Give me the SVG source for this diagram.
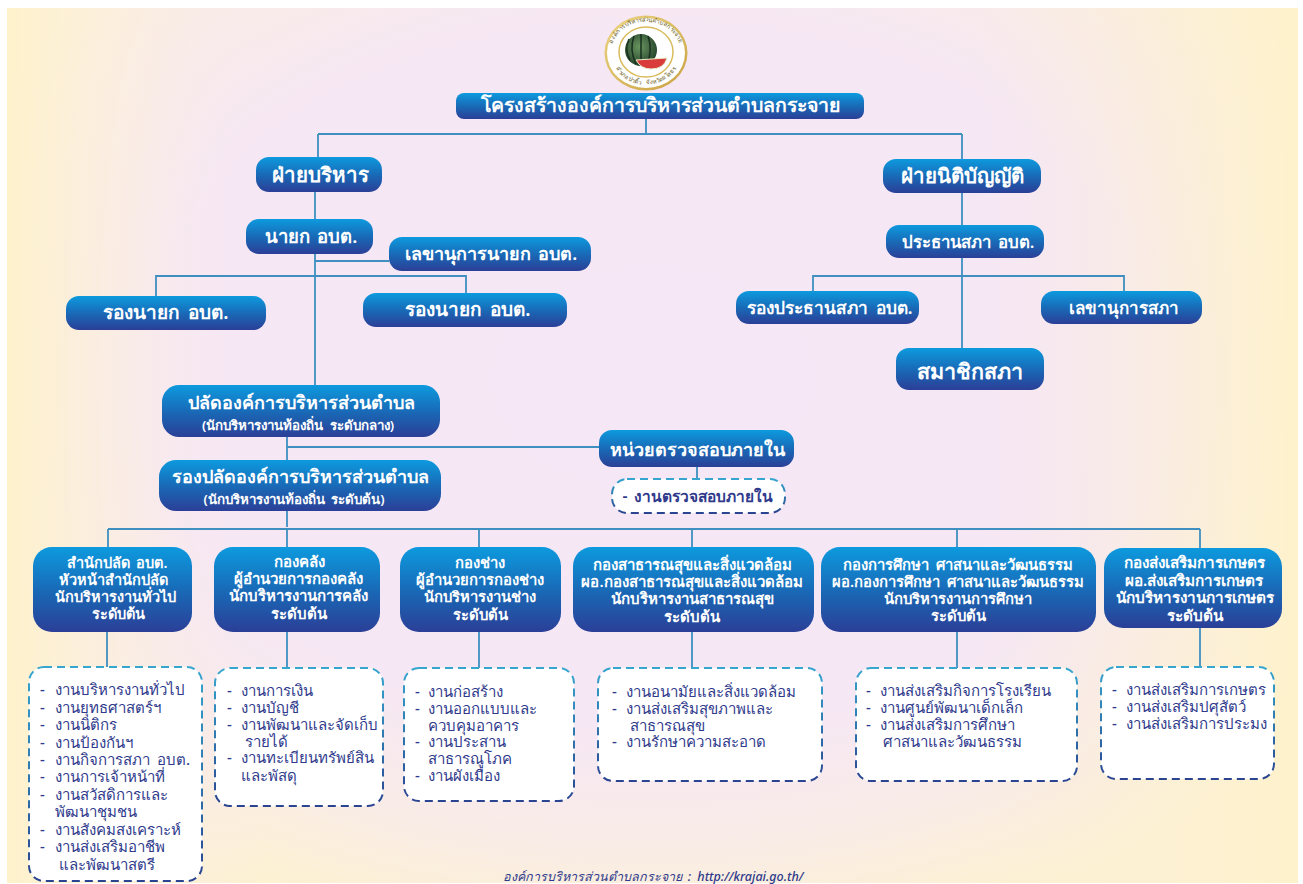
<svg xmlns="http://www.w3.org/2000/svg" width="1303" height="884" viewBox="0 0 1303 884">
<defs>
<radialGradient id="bg" cx="0.5" cy="0.42" r="0.66">
<stop offset="0" stop-color="#f6e7f6"/><stop offset="0.6" stop-color="#f6e7f5"/><stop offset="0.82" stop-color="#f9ece6"/><stop offset="1" stop-color="#fdf2d0"/>
</radialGradient>
<linearGradient id="side" x1="0" y1="0" x2="1" y2="0">
<stop offset="0" stop-color="#fef2cc"/><stop offset="0.1" stop-color="#fbeee0" stop-opacity="0.6"/><stop offset="0.2" stop-color="#f6e7f5" stop-opacity="0"/><stop offset="0.75" stop-color="#f9ecdf" stop-opacity="0"/><stop offset="1" stop-color="#fef2cc"/>
</linearGradient>
<linearGradient id="blue" x1="0" y1="0" x2="0" y2="1">
<stop offset="0" stop-color="#0d9ade"/><stop offset="0.55" stop-color="#1a66b4"/><stop offset="1" stop-color="#2b3f97"/>
</linearGradient>
<linearGradient id="dash" x1="0" y1="0" x2="0" y2="1">
<stop offset="0" stop-color="#36a6cf"/><stop offset="0.5" stop-color="#2f78b0"/><stop offset="1" stop-color="#2b4491"/>
</linearGradient>
<radialGradient id="melon" cx="0.45" cy="0.4" r="0.6"><stop offset="0" stop-color="#6a9560"/><stop offset="1" stop-color="#26452c"/></radialGradient>
<linearGradient id="gold" x1="0" y1="0" x2="1" y2="1"><stop offset="0" stop-color="#ecd580"/><stop offset="1" stop-color="#c9a243"/></linearGradient>
<path id="arcTop" d="M611 60A35.500 33 0 1 1 681 60"/>
<path id="arcBot" d="M614 64A33 27 0 0 0 678 64"/>
<style>
text{font-family:"Noto Sans","Noto Sans CJK SC","DejaVu Sans",sans-serif;word-spacing:3px}
.n{fill:url(#blue)}
.t{fill:#fff;text-anchor:middle;font-weight:600}
.d{fill:#fff;stroke:url(#dash);stroke-width:2;stroke-dasharray:8 5}
.l{fill:#2f3a8c;font-size:15px;font-weight:500}
.c{fill:none;stroke:#3f8fc0;stroke-width:1.800}
</style>
</defs>
<rect width="1303" height="884" fill="#fff"/>
<rect x="7" y="8" width="1291" height="875" fill="url(#bg)"/>
<rect x="7" y="8" width="1291" height="875" fill="url(#side)"/>
<g id="connectors" class="c">
<path d="M646 119V134M318 134H962M318 134V157M962 134V159"/>
<path d="M315 192V385M315 261H389M156 296V276H466V293"/>
<path d="M962 193V348M813 291V276H1124V291"/>
<path d="M287 437V527M287 447H599M697 467V479"/>
<path d="M108 529H1200M108 529V547M287 529V547M479 529V547M692 529V547M957 529V547M1200 529V548"/>
<path d="M107 632V668M287 632V668M479 632V668M692 632V668M957 632V668M1200 628V667"/>
</g>
<g id="logo">
<ellipse cx="646" cy="53" rx="41.500" ry="37.500" fill="url(#gold)"/>
<ellipse cx="646" cy="53" rx="39" ry="35" fill="#fff"/>
<ellipse cx="646" cy="52" rx="27" ry="25" fill="none" stroke="#d9bb5c" stroke-width="1.500"/>
<text font-size="6" fill="#6a5c22"><textPath href="#arcTop" startOffset="50%" text-anchor="middle">องค์การบริหารส่วนตำบลกระจาย</textPath></text>
<text font-size="6" fill="#6a5c22"><textPath href="#arcBot" startOffset="50%" text-anchor="middle">อำเภอป่าติ้ว จังหวัดยโสธร</textPath></text>
<circle cx="641" cy="50" r="16" fill="url(#melon)"/>
<path d="M634 36Q629 50 636 64M641 34V66M648 36Q653 50 647 64M629 39Q624 50 630 60" fill="none" stroke="#18301f" stroke-width="1.500"/>
<path d="M636 60L667 58Q664 69 651 69Q641 69 636 60Z" fill="#d93a3a" stroke="#e6efc8" stroke-width="1"/>
</g>
<g id="title"><rect class="n" x="456" y="93" width="408" height="26" rx="8"/><text class="t" x="660" y="112" font-size="19.500">โครงสร้างองค์การบริหารส่วนตำบลกระจาย</text></g>
<g id="exec"><rect class="n" x="256" y="157" width="126" height="35" rx="13"/><text class="t" x="320" y="182" font-size="20.500">ฝ่ายบริหาร</text></g>
<g id="mayor"><rect class="n" x="246" y="219" width="127" height="35" rx="13"/><text class="t" x="311" y="243" font-size="18.500">นายก อบต.</text></g>
<g id="mayorsec"><rect class="n" x="389" y="237" width="202" height="34" rx="13"/><text class="t" x="491" y="260" font-size="18">เลขานุการนายก อบต.</text></g>
<g id="deputyL"><rect class="n" x="66" y="296" width="200" height="34" rx="13"/><text class="t" x="166" y="319" font-size="19">รองนายก อบต.</text></g>
<g id="deputyR"><rect class="n" x="363" y="293" width="204" height="34" rx="13"/><text class="t" x="468" y="316" font-size="19">รองนายก อบต.</text></g>
<g id="legis"><rect class="n" x="883" y="159" width="158" height="34" rx="13"/><text class="t" x="962" y="183" font-size="20.500">ฝ่ายนิติบัญญัติ</text></g>
<g id="speaker"><rect class="n" x="886" y="225" width="158" height="33" rx="13"/><text class="t" x="968" y="248" font-size="16.800">ประธานสภา อบต.</text></g>
<g id="vicespeaker"><rect class="n" x="736" y="291" width="183" height="33" rx="13"/><text class="t" x="830" y="314" font-size="17.300">รองประธานสภา อบต.</text></g>
<g id="councilsec"><rect class="n" x="1041" y="291" width="161" height="33" rx="13"/><text class="t" x="1124" y="314" font-size="17">เลขานุการสภา</text></g>
<g id="members"><rect class="n" x="896" y="348" width="148" height="42" rx="13"/><text class="t" x="970" y="379" font-size="21.500">สมาชิกสภา</text></g>
<g id="clerk"><rect class="n" x="162" y="385" width="278" height="52" rx="17"/><text class="t" font-size="18"><tspan x="301" y="409">ปลัดองค์การบริหารส่วนตำบล</tspan><tspan x="298" y="430" font-size="13.300">(นักบริหารงานท้องถิ่น ระดับกลาง)</tspan></text></g>
<g id="deputyclerk"><rect class="n" x="159" y="460" width="282" height="51" rx="17"/><text class="t" font-size="18"><tspan x="300" y="483">รองปลัดองค์การบริหารส่วนตำบล</tspan><tspan x="294" y="504" font-size="13.300">(นักบริหารงานท้องถิ่น ระดับต้น)</tspan></text></g>
<g id="audit"><rect class="n" x="599" y="430" width="195" height="37" rx="13"/><text class="t" x="697" y="456" font-size="18">หน่วยตรวจสอบภายใน</text></g>
<g id="auditwork"><rect class="d" x="612" y="479" width="173" height="34" rx="15"/><text x="698" y="502" text-anchor="middle" font-size="15.500" fill="#2f3a8c" font-weight="600">- งานตรวจสอบภายใน</text></g>
<g id="office"><rect class="n" x="33" y="547" width="159" height="85" rx="19"/>
<text class="t" font-size="14.500"><tspan x="117" y="568">สำนักปลัด อบต.</tspan><tspan x="113" y="585">หัวหน้าสำนักปลัด</tspan><tspan x="115" y="602">นักบริหารงานทั่วไป</tspan><tspan x="118" y="619">ระดับต้น</tspan></text></g>
<g id="finance"><rect class="n" x="214" y="547" width="166" height="85" rx="19"/>
<text class="t" font-size="15"><tspan x="299" y="567">กองคลัง</tspan><tspan x="298" y="584">ผู้อำนวยการกองคลัง</tspan><tspan x="298" y="601">นักบริหารงานการคลัง</tspan><tspan x="299" y="619">ระดับต้น</tspan></text></g>
<g id="works"><rect class="n" x="400" y="547" width="161" height="85" rx="19"/>
<text class="t" font-size="14.800"><tspan x="480" y="568">กองช่าง</tspan><tspan x="480" y="585">ผู้อำนวยการกองช่าง</tspan><tspan x="480" y="602">นักบริหารงานช่าง</tspan><tspan x="480" y="620">ระดับต้น</tspan></text></g>
<g id="health"><rect class="n" x="573" y="547" width="241" height="85" rx="19"/>
<text class="t" font-size="15"><tspan x="692" y="570">กองสาธารณสุขและสิ่งแวดล้อม</tspan><tspan x="692" y="587">ผอ.กองสาธารณสุขและสิ่งแวดล้อม</tspan><tspan x="692" y="604">นักบริหารงานสาธารณสุข</tspan><tspan x="692" y="622">ระดับต้น</tspan></text></g>
<g id="education"><rect class="n" x="821" y="547" width="275" height="85" rx="19"/>
<text class="t" font-size="14.800"><tspan x="958" y="570">กองการศึกษา ศาสนาและวัฒนธรรม</tspan><tspan x="958" y="587">ผอ.กองการศึกษา ศาสนาและวัฒนธรรม</tspan><tspan x="958" y="604">นักบริหารงานการศึกษา</tspan><tspan x="958" y="621">ระดับต้น</tspan></text></g>
<g id="agri"><rect class="n" x="1104" y="548" width="178" height="80" rx="19"/>
<text class="t" font-size="15.300"><tspan x="1194" y="568">กองส่งเสริมการเกษตร</tspan><tspan x="1194" y="586">ผอ.ส่งเสริมการเกษตร</tspan><tspan x="1195" y="603">นักบริหารงานการเกษตร</tspan><tspan x="1195" y="621">ระดับต้น</tspan></text></g>
<g id="list1"><rect class="d" x="29" y="667" width="173" height="214" rx="15"/>
<text class="l"><tspan x="40" y="695">-</tspan><tspan x="55">งานบริหารงานทั่วไป</tspan><tspan x="40" y="713">-</tspan><tspan x="55">งานยุทธศาสตร์ฯ</tspan><tspan x="40" y="730">-</tspan><tspan x="55">งานนิติกร</tspan><tspan x="40" y="748">-</tspan><tspan x="55">งานป้องกันฯ</tspan><tspan x="40" y="765">-</tspan><tspan x="55">งานกิจการสภา อบต.</tspan><tspan x="40" y="782">-</tspan><tspan x="55">งานการเจ้าหน้าที่</tspan><tspan x="40" y="800">-</tspan><tspan x="55">งานสวัสดิการและ</tspan><tspan x="55" y="817">พัฒนาชุมชน</tspan><tspan x="40" y="835">-</tspan><tspan x="55">งานสังคมสงเคราะห์</tspan><tspan x="40" y="852">-</tspan><tspan x="55">งานส่งเสริมอาชีพ</tspan><tspan x="59" y="870">และพัฒนาสตรี</tspan></text></g>
<g id="list2"><rect class="d" x="215" y="668" width="168" height="138" rx="15"/>
<text class="l"><tspan x="227" y="696">-</tspan><tspan x="241">งานการเงิน</tspan><tspan x="227" y="713">-</tspan><tspan x="241">งานบัญชี</tspan><tspan x="227" y="730">-</tspan><tspan x="241">งานพัฒนาและจัดเก็บ</tspan><tspan x="245" y="747">รายได้</tspan><tspan x="227" y="763">-</tspan><tspan x="241">งานทะเบียนทรัพย์สิน</tspan><tspan x="241" y="781">และพัสดุ</tspan></text></g>
<g id="list3"><rect class="d" x="404" y="668" width="170" height="133" rx="15"/>
<text class="l"><tspan x="415" y="697">-</tspan><tspan x="428">งานก่อสร้าง</tspan><tspan x="415" y="714">-</tspan><tspan x="428">งานออกแบบและ</tspan><tspan x="428" y="731">ควบคุมอาคาร</tspan><tspan x="415" y="747">-</tspan><tspan x="428">งานประสาน</tspan><tspan x="428" y="764">สาธารณูโภค</tspan><tspan x="415" y="781">-</tspan><tspan x="428">งานผังเมือง</tspan></text></g>
<g id="list4"><rect class="d" x="598" y="668" width="224" height="113" rx="15"/>
<text class="l"><tspan x="612" y="697">-</tspan><tspan x="626">งานอนามัยและสิ่งแวดล้อม</tspan><tspan x="612" y="714">-</tspan><tspan x="626">งานส่งเสริมสุขภาพและ</tspan><tspan x="630" y="731">สาธารณสุข</tspan><tspan x="612" y="747">-</tspan><tspan x="626">งานรักษาความสะอาด</tspan></text></g>
<g id="list5"><rect class="d" x="856" y="668" width="221" height="113" rx="15"/>
<text class="l"><tspan x="866" y="696">-</tspan><tspan x="880">งานส่งเสริมกิจการโรงเรียน</tspan><tspan x="866" y="713">-</tspan><tspan x="880">งานศูนย์พัฒนาเด็กเล็ก</tspan><tspan x="866" y="730">-</tspan><tspan x="880">งานส่งเสริมการศึกษา</tspan><tspan x="883" y="747">ศาสนาและวัฒนธรรม</tspan></text></g>
<g id="list6"><rect class="d" x="1101" y="667" width="173" height="112" rx="15"/>
<text class="l"><tspan x="1112" y="695">-</tspan><tspan x="1126">งานส่งเสริมการเกษตร</tspan><tspan x="1112" y="712">-</tspan><tspan x="1126">งานส่งเสริมปศุสัตว์</tspan><tspan x="1112" y="729">-</tspan><tspan x="1126">งานส่งเสริมการประมง</tspan></text></g>
<text id="footer" x="653" y="881" text-anchor="middle" font-size="12.500" font-style="italic" fill="#2f3a8c" font-weight="500">องค์การบริหารส่วนตำบลกระจาย : http://krajai.go.th/</text>
</svg>
